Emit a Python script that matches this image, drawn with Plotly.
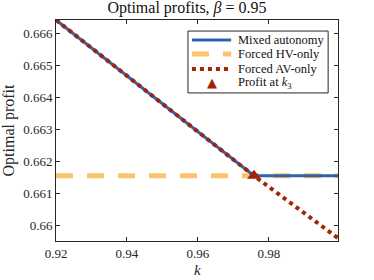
import plotly.graph_objects as go

k_vals = [0.92, 0.9758, 0.9995]
mixed_profit = [0.66641, 0.66156, 0.66156]
hv_profit = [0.66156, 0.66156, 0.66156]
av_profit = [0.66641, 0.66156, 0.65962]
k3 = [0.9758]
k3_profit = [0.66156]

x_ticks = [0.92, 0.94, 0.96, 0.98]
x_labels = ["0.92", "0.94", "0.96", "0.98"]
y_ticks = [0.660, 0.661, 0.662, 0.663, 0.664, 0.665, 0.666]
y_labels = ["0.66", "0.661", "0.662", "0.663", "0.664", "0.665", "0.666"]

legend_names = ["Mixed autonomy", "Forced HV-only", "Forced AV-only", "Profit at <i>k</i><sub>3</sub>"]

BLUE = "#2f62ad"
ORANGE = "#fbc36b"
RED = "#a22406"
FONT = "Liberation Serif"
INK = "#262626"

fig = go.Figure()
fig.add_trace(go.Scatter(x=k_vals, y=hv_profit, mode="lines", name=legend_names[1],
                         line=dict(color=ORANGE, width=5, dash="17px,14px")))
fig.add_trace(go.Scatter(x=k_vals, y=mixed_profit, mode="lines", name=legend_names[0],
                         line=dict(color=BLUE, width=3)))
fig.add_trace(go.Scatter(x=k_vals, y=av_profit, mode="lines", name=legend_names[2],
                         line=dict(color=RED, width=4, dash="4px,4px")))
fig.add_trace(go.Scatter(x=k3, y=k3_profit, mode="markers", name=legend_names[3],
                         marker=dict(symbol="triangle-up", color=RED, size=12)))

axis_common = dict(showgrid=False, zeroline=False, showline=True, linecolor=INK,
                   linewidth=1, mirror="ticks", ticks="inside", ticklen=4, tickcolor=INK,
                   automargin=False,
                   tickfont=dict(family=FONT, size=13, color=INK))

# compact legend box (paper coordinates)
lx0, lx1, ly0, ly1 = 0.468, 0.965, 0.670, 0.950
rows = [0.9095, 0.846, 0.778, 0.715]
sx0, sx1, tx = 0.482, 0.621, 0.640
shapes = [dict(type="rect", xref="paper", yref="paper", x0=lx0, x1=lx1, y0=ly0, y1=ly1,
               line=dict(color=INK, width=1), fillcolor="white", layer="above")]
styles = [dict(color=BLUE, width=3), dict(color=ORANGE, width=5, dash="17px,14px"),
          dict(color=RED, width=4, dash="4px,4px")]
for r, st in zip(rows[:3], styles):
    shapes.append(dict(type="line", xref="paper", yref="paper", x0=sx0, x1=sx1, y0=r, y1=r,
                       line=st, layer="above"))
annotations = []
for r, name in zip(rows, legend_names):
    annotations.append(dict(xref="paper", yref="paper", x=tx, y=r, xanchor="left", yanchor="middle",
                            text=name, showarrow=False, font=dict(family=FONT, size=12.5, color="#111111")))
annotations.append(dict(xref="paper", yref="paper", x=(sx0 + sx1) / 2, y=rows[3], xanchor="center",
                        yanchor="middle", text="▲", showarrow=False, font=dict(family="DejaVu Sans", size=13, color=RED)))
# x-axis title
annotations.append(dict(xref="paper", yref="paper", x=0.5, y=-0.131, xanchor="center", yanchor="middle",
                        text="<i>k</i>", showarrow=False, font=dict(family=FONT, size=15, color=INK)))

fig.update_layout(
    width=374, height=280,
    margin=dict(l=56, r=36, t=20, b=39),
    paper_bgcolor="white", plot_bgcolor="white",
    font=dict(family=FONT, size=12, color=INK),
    showlegend=False,
    title=dict(text="Optimal profits, <i>β</i> = 0.95", x=0.5, xanchor="center",
               yref="container", y=0.995, yanchor="top", font=dict(family=FONT, size=16, color="#111111")),
    xaxis=dict(range=[0.92, 0.9995], tickvals=x_ticks, ticktext=x_labels, **axis_common),
    yaxis=dict(range=[0.65953, 0.66641], tickvals=y_ticks, ticktext=y_labels,
               title=dict(text="Optimal profit", font=dict(family=FONT, size=16), standoff=10), **axis_common),
    shapes=shapes,
    annotations=annotations,
)

fig.write_html("out.html", config={"displayModeBar": False},
               post_script="document.body.style.margin='0';document.body.style.overflow='hidden';")
